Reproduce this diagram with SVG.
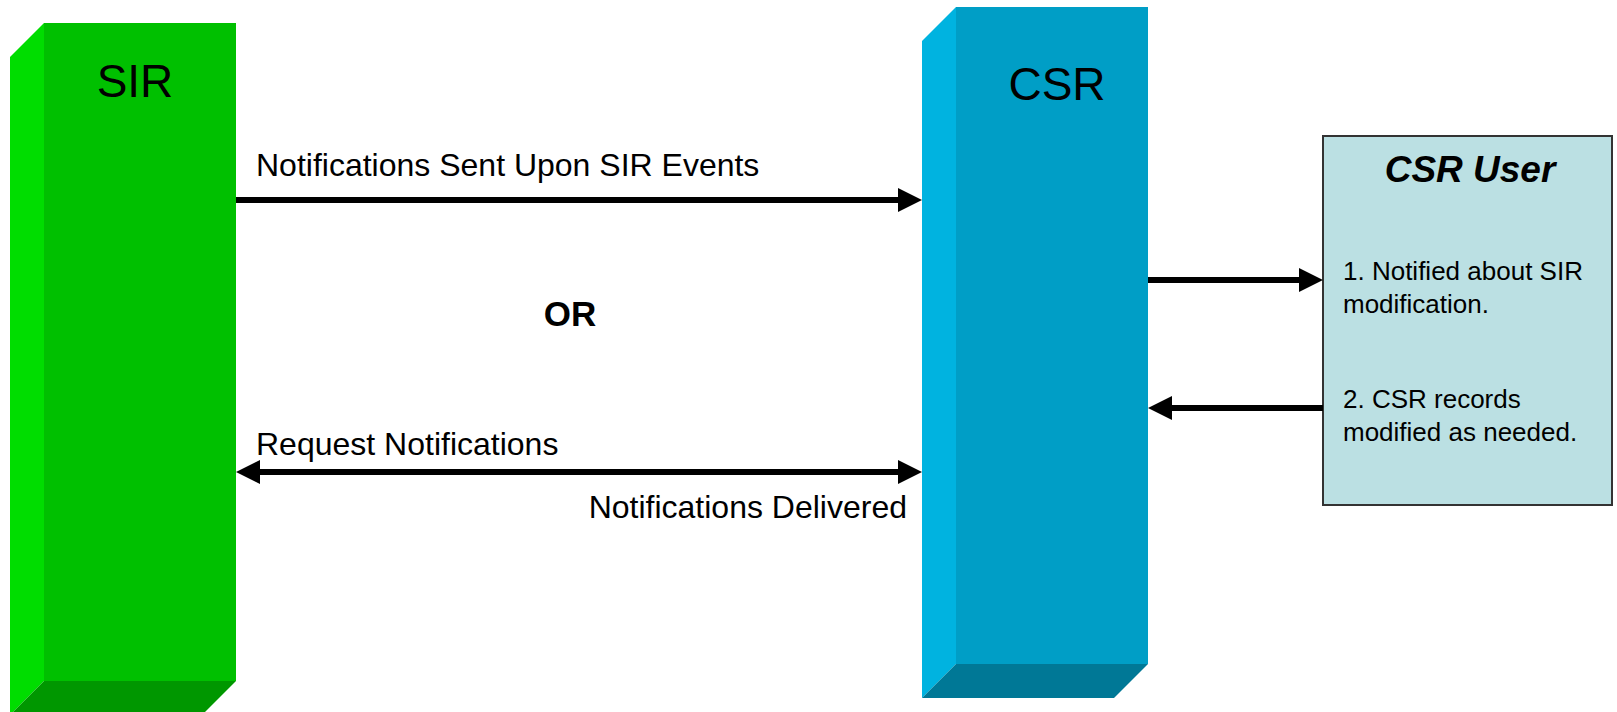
<svg xmlns="http://www.w3.org/2000/svg" width="1617" height="712" viewBox="0 0 1617 712">
<style>
.lbl{font-family:"Liberation Sans",Arial,sans-serif;fill:#000}
.conn{stroke:#000;stroke-width:6;fill:none}
</style>
<defs>
<marker id="ah" viewBox="0 0 24 24" refX="4" refY="12" markerWidth="24" markerHeight="24" markerUnits="userSpaceOnUse" orient="auto-start-reverse">
<path d="M0,0 L24,12 L0,24 z" fill="#000"/>
</marker>
</defs>
<rect width="1617" height="712" fill="#fff"/>
<g id="sir">
<polygon points="10,57 44,23 44,681 10,715" fill="#00DD00"/>
<polygon points="44,681 236,681 202,715 10,715" fill="#009700"/>
<rect x="44" y="23" width="192" height="658" fill="#00C000"/>
<text class="lbl" x="135" y="97" font-size="46" text-anchor="middle">SIR</text>
</g>
<g id="csr">
<polygon points="922,41 956,7 956,664 922,698" fill="#00B3E0"/>
<polygon points="956,664 1148,664 1114,698 922,698" fill="#007896"/>
<rect x="956" y="7" width="192" height="657" fill="#009EC6"/>
<text class="lbl" x="1057" y="100" font-size="46" text-anchor="middle">CSR</text>
</g>
<g id="csr-user">
<rect x="1323" y="136" width="289" height="369" fill="#BBE0E3" stroke="#333" stroke-width="2"/>
<text class="lbl" x="1470" y="182" font-size="37" font-weight="bold" font-style="italic" text-anchor="middle">CSR User</text>
<text class="lbl" x="1343" y="280" font-size="26">1. Notified about SIR</text>
<text class="lbl" x="1343" y="313" font-size="26">modification.</text>
<text class="lbl" x="1343" y="408" font-size="26">2. CSR records</text>
<text class="lbl" x="1343" y="441" font-size="26">modified as needed.</text>
</g>
<g id="connectors">
<line class="conn" x1="236" y1="200" x2="902" y2="200" marker-end="url(#ah)"/>
<line class="conn" x1="256" y1="472" x2="902" y2="472" marker-start="url(#ah)" marker-end="url(#ah)"/>
<line class="conn" x1="1148" y1="280" x2="1303" y2="280" marker-end="url(#ah)"/>
<line class="conn" x1="1323" y1="408" x2="1168" y2="408" marker-end="url(#ah)"/>
</g>
<g id="labels">
<text class="lbl" x="256" y="176" font-size="32">Notifications Sent Upon SIR Events</text>
<text class="lbl" x="570" y="326" font-size="35" font-weight="bold" text-anchor="middle">OR</text>
<text class="lbl" x="256" y="455" font-size="32">Request Notifications</text>
<text class="lbl" x="907" y="518" font-size="32" text-anchor="end">Notifications Delivered</text>
</g>
</svg>
